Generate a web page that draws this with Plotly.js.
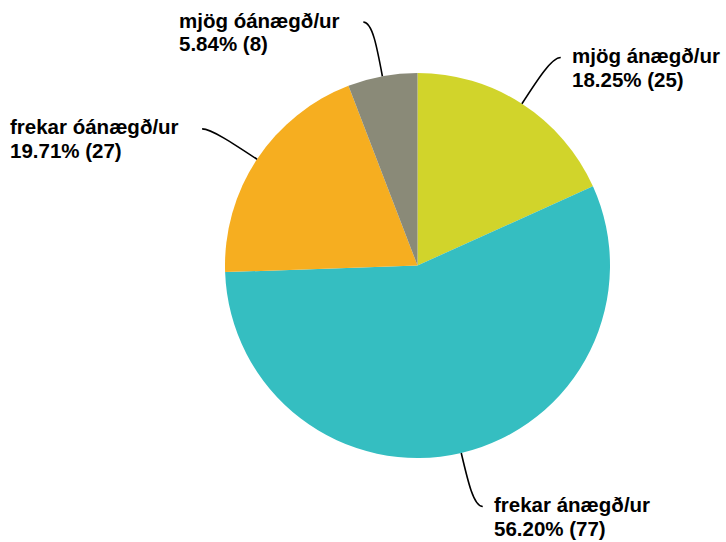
<!DOCTYPE html>
<html>
<head>
<meta charset="utf-8">
<script src="https://cdn.plot.ly/plotly-3.0.1.min.js"></script>
<style>html,body{margin:0;padding:0;background:#fff}</style>
</head>
<body>
<div id="chart" style="width:726px;height:542px"></div>
<script>
// ---- data ----
const categories = ['mjög ánægð/ur', 'frekar ánægð/ur', 'frekar óánægð/ur', 'mjög óánægð/ur'];
const counts = [25, 77, 27, 8];
const sliceColors = ['#D1D42B', '#35BEC1', '#F6AE20', '#8A8A78'];

// ---- layout geometry ----
const W = 726, H = 542;
const M = {l: 225, r: 116, t: 73, b: 84};
const pw = W - M.l - M.r, ph = H - M.t - M.b;
const cx = M.l + pw / 2, cy = M.t + ph / 2, R = Math.min(pw, ph) / 2;
const FS = 20.5, FONT = 'Liberation Sans, Arial, sans-serif';
const toPX = px => (px - M.l) / pw;
const toPY = py => (H - M.b - py) / ph;

const ctx = document.createElement('canvas').getContext('2d');
ctx.font = 'bold ' + FS + 'px "Liberation Sans"';

const total = counts.reduce((a, b) => a + b, 0);
const shapes = [], annotations = [];
let cum = 0;
counts.forEach((v, i) => {
  const mid = (cum + v / 2) / total * 2 * Math.PI;
  cum += v;
  const s = Math.sin(mid), c = Math.cos(mid);
  const ex = cx + R * s, ey = cy - R * c;
  const L = 55;
  const bx = ex + L * s, by = ey - L * c;
  const c1x = ex + 30 * s, c1y = ey - 30 * c;
  const side = s >= 0 ? 1 : -1;
  const endx = bx + 9 * side, endy = by;
  shapes.push({
    type: 'path', xref: 'paper', yref: 'paper',
    path: `M ${toPX(ex)},${toPY(ey)} C ${toPX(c1x)},${toPY(c1y)} ${toPX(bx)},${toPY(by)} ${toPX(endx)},${toPY(endy)}`,
    line: {color: '#000000', width: 1.6}
  });
  const pct = (v / total * 100).toFixed(2) + '% (' + v + ')';
  const lines = [categories[i], pct];
  const w = Math.max(...lines.map(t => ctx.measureText(t).width));
  const left = side > 0 ? endx + 9 : endx - 26 - w;
  const base1 = endy + 5;
  lines.forEach((t, k) => {
    const baseline = base1 + k * 23.5;
    annotations.push({
      text: t, showarrow: false, xref: 'paper', yref: 'paper',
      x: toPX(left), y: toPY(baseline - 7), xanchor: 'left', yanchor: 'middle', align: 'left',
      font: {family: FONT, size: FS, color: '#000000', weight: 'bold'}
    });
  });
});

const trace = {
  type: 'pie', values: counts, labels: categories, sort: false,
  direction: 'clockwise', rotation: 0, textinfo: 'none', hoverinfo: 'none',
  marker: {colors: sliceColors, line: {width: 0}},
  domain: {x: [0, 1], y: [0, 1]}, showlegend: false
};
Plotly.newPlot('chart', [trace], {
  width: W, height: H, margin: M, paper_bgcolor: '#fff', plot_bgcolor: '#fff',
  showlegend: false, shapes: shapes, annotations: annotations
}, {staticPlot: true});
</script>
</body>
</html>
